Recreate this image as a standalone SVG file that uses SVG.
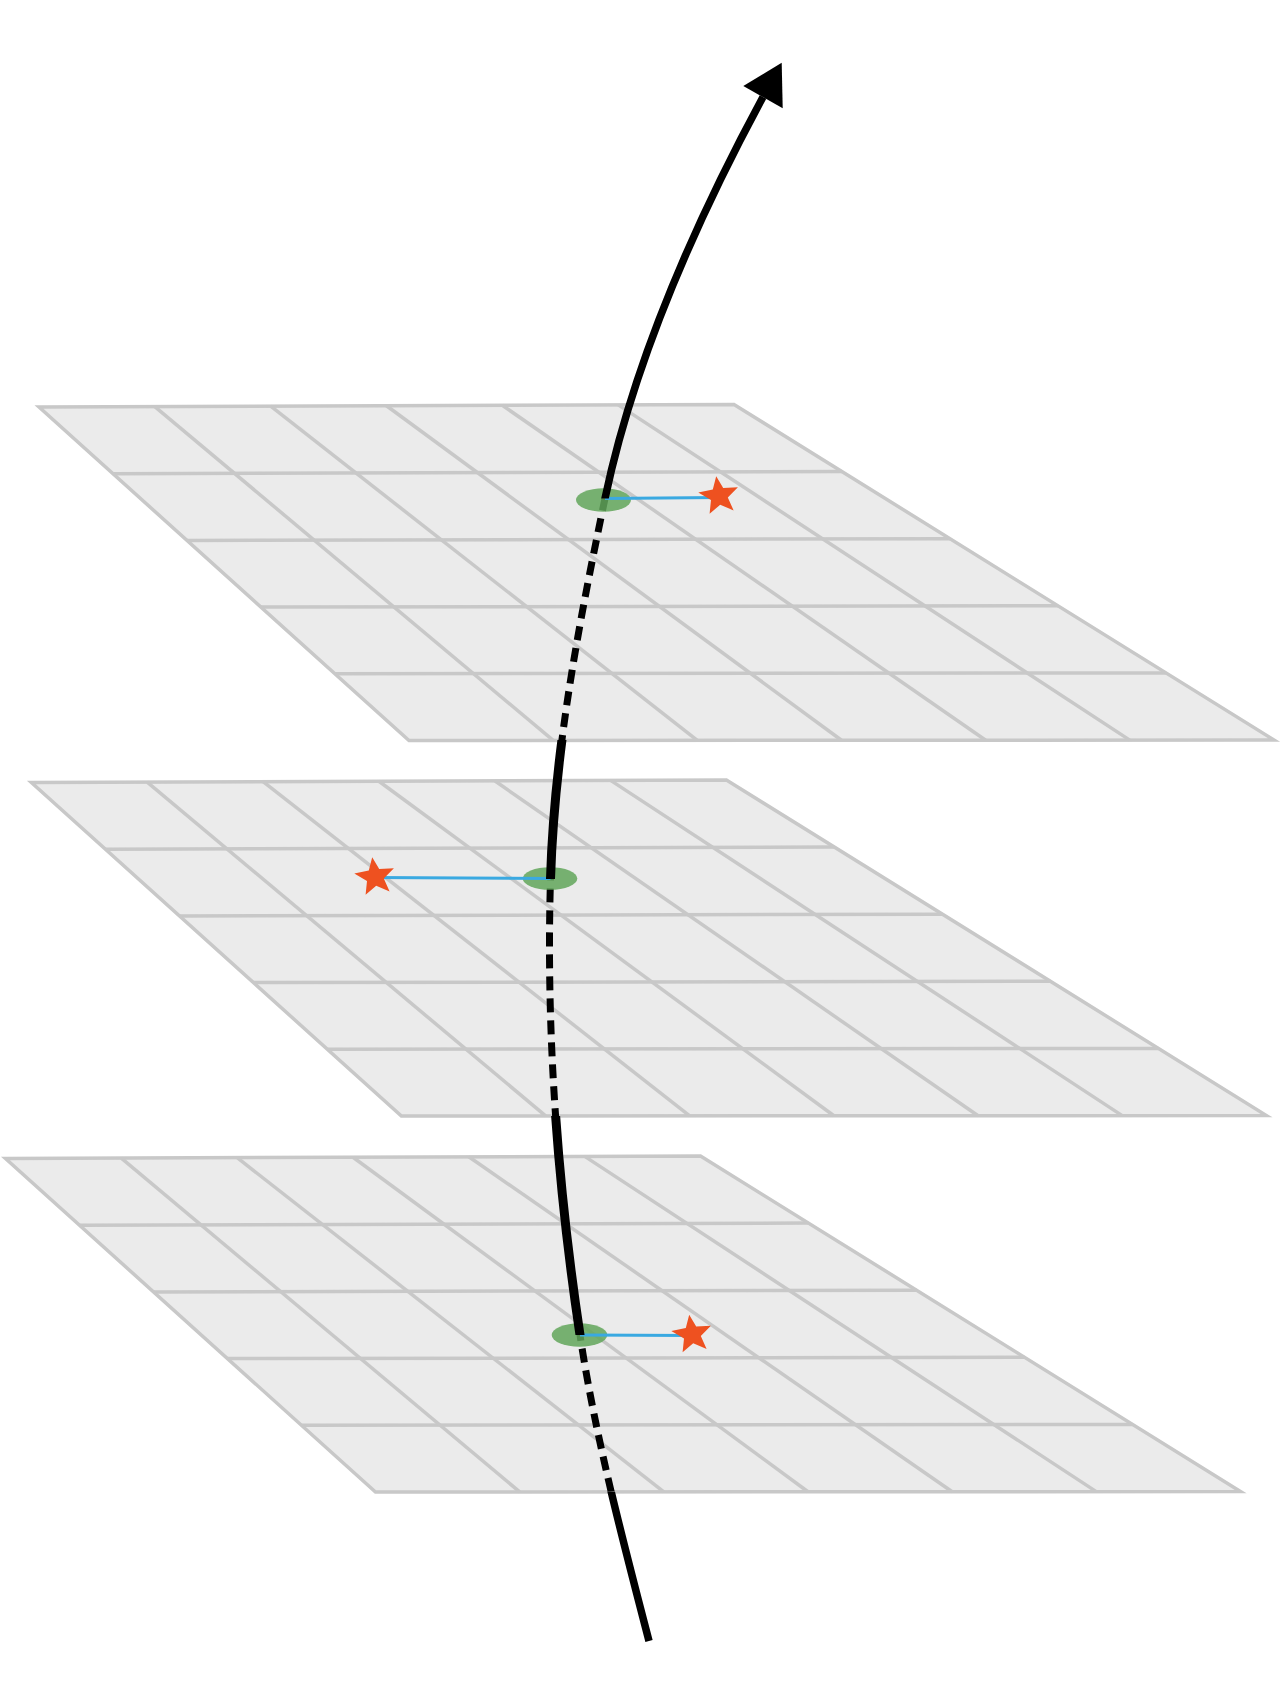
<svg xmlns="http://www.w3.org/2000/svg" xmlns:xlink="http://www.w3.org/1999/xlink" width="1281" height="1706" viewBox="0 0 1281 1706">
<style>
.pl{fill:#ebebeb;stroke:none}
.pe{fill:none;stroke:#c8c8c8;stroke-width:3.5;stroke-linejoin:miter;stroke-miterlimit:10}
.gl{stroke:#c8c8c8;stroke-width:3.5;fill:none}
.cs{fill:none;stroke:#000;stroke-width:7.5;stroke-linecap:butt}
.cm{fill:none;stroke:#000;stroke-width:9;stroke-linecap:butt}
.cd{fill:none;stroke:#000;stroke-width:7;stroke-dasharray:14 8;stroke-linecap:butt}
.pt{fill:#62a65a;fill-opacity:0.85}
.bl{stroke:#3aa9e1;stroke-width:3;fill:none}
.st{fill:#ee5120}
</style>
<defs>
<g id="plane">
<polygon class="pl" points="39,407 734,404.5 1274,740 409,740.5"/>
<g class="gl">
<line x1="113" y1="473.7" x2="842" y2="471.6"/>
<line x1="187" y1="540.4" x2="950" y2="538.7"/>
<line x1="261" y1="607.1" x2="1058" y2="605.8"/>
<line x1="335" y1="673.8" x2="1166" y2="672.9"/>
<line x1="154.8" y1="406.6" x2="553.2" y2="740.4"/>
<line x1="270.7" y1="406.2" x2="697.3" y2="740.3"/>
<line x1="386.5" y1="405.75" x2="841.5" y2="740.25"/>
<line x1="502.3" y1="405.3" x2="985.7" y2="740.2"/>
<line x1="618.2" y1="404.9" x2="1129.8" y2="740.1"/>
</g>
<polygon class="pe" points="39,407 734,404.5 1274,740 409,740.5"/>
</g>
<path id="curve" d="M649,1641 C622.5,1539 595.3,1437 580,1335 C557.2,1183 545.9,1031 550.5,879 C554.3,752.2 578.4,625.3 605,498.5 C633.1,364.7 690.7,230.8 763,97"/>
<clipPath id="outerClip">
<rect x="0" y="1491.5" width="1281" height="214.5"/>
<rect x="0" y="0" width="1281" height="498.5"/>
</clipPath>
<clipPath id="innerClip">
<rect x="0" y="1116" width="1281" height="219"/>
<rect x="0" y="740" width="1281" height="139"/>
</clipPath>
<clipPath id="dashClip">
<rect x="0" y="1335" width="1281" height="156.5"/>
<rect x="0" y="879" width="1281" height="237"/>
<rect x="0" y="498.5" width="1281" height="241.5"/>
</clipPath>
<polygon id="star" points="-2.8,-19.8 4.2,-7.9 18.9,-8.8 8.8,1.5 14.6,14.4 1.2,8.8 -9.4,17.7 -8,3.9 -20.7,-3.5 -6.2,-6.4"/>
</defs>
<g id="plane-top"><use xlink:href="#plane"/></g>
<g id="plane-middle"><use xlink:href="#plane" transform="translate(-7.6,375.5)"/></g>
<g id="plane-bottom"><use xlink:href="#plane" transform="translate(-33.5,751.5)"/></g>
<g id="connectors">
<use xlink:href="#curve" class="cd" clip-path="url(#dashClip)"/>
</g>
<g id="point-top">
<ellipse class="pt" cx="603.5" cy="500" rx="27.5" ry="11.7"/>
<line class="bl" x1="605" y1="498.5" x2="719" y2="497.5"/>
<use xlink:href="#star" class="st" transform="translate(719,496)"/>
</g>
<g id="point-middle">
<ellipse class="pt" cx="550" cy="878.5" rx="27.3" ry="11.3"/>
<line class="bl" x1="550.5" y1="878.5" x2="375" y2="877.5"/>
<use xlink:href="#star" class="st" transform="translate(375,877)"/>
</g>
<g id="point-bottom">
<ellipse class="pt" cx="579.5" cy="1335" rx="27.8" ry="11.7"/>
<line class="bl" x1="580" y1="1335" x2="692" y2="1335.5"/>
<use xlink:href="#star" class="st" transform="translate(692,1334.5)"/>
</g>
<g id="trajectory">
<use xlink:href="#curve" class="cs" clip-path="url(#outerClip)"/>
<use xlink:href="#curve" class="cm" clip-path="url(#innerClip)"/>
<polygon points="781.7,62.7 743.3,86 782.7,108.3" fill="#000"/>
</g>
</svg>
